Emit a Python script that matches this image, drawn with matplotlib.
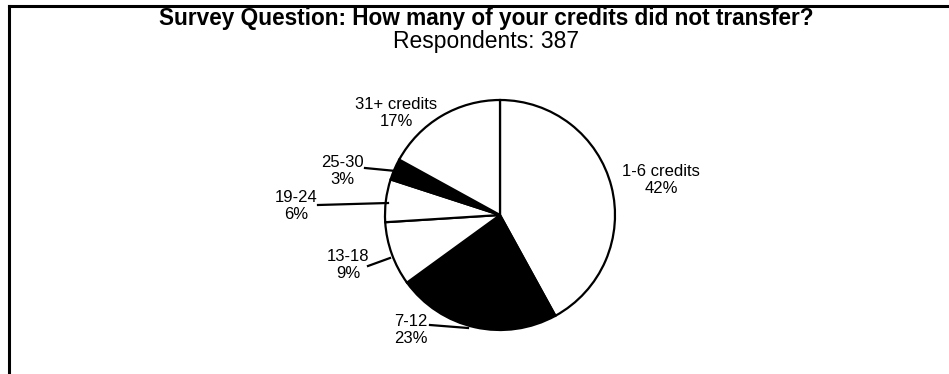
import matplotlib
matplotlib.use("Agg")
import matplotlib.pyplot as plt
from matplotlib import font_manager

categories = ["1-6 credits", "7-12", "13-18", "19-24", "25-30", "31+ credits"]
values = [42, 23, 9, 6, 3, 17]
colors = ["white", "black", "white", "white", "black", "white"]
title = "Survey Question: How many of your credits did not transfer?"
subtitle = "Respondents: 387"

names = {f.name for f in font_manager.fontManager.ttflist}
narrow = ["Liberation Sans Narrow", "Liberation Sans"] if "Liberation Sans Narrow" in names else ["Liberation Sans"]

W, H = 949, 374
fig = plt.figure(figsize=(W / 100, H / 100), dpi=100)
ax = fig.add_axes([0, 0, 1, 1])
ax.set_xlim(0, W)
ax.set_ylim(0, H)
ax.set_aspect("equal")
ax.axis("off")

cx, cy, r = 500, H - 215, 115
ax.pie(values, colors=colors, startangle=90, counterclock=False,
       center=(cx, cy), radius=r, frame=True,
       wedgeprops=dict(edgecolor="black", linewidth=1.6))
ax.set_xlim(0, W)
ax.set_ylim(0, H)
ax.axis("off")

# label positions (text center) and leader line endpoints in pixel coords (y from top)
label_pos = [(661, 180), (411, 330), (348, 265), (296, 206), (342, 171), (396, 113)]
leaders = [None, ((430, 325), (468, 328)), ((368, 266), (390, 258)),
           ((318, 205), (388, 203)), ((365, 168), (396, 171)), None]

for cat, v, (x, y), ld in zip(categories, values, label_pos, leaders):
    ax.text(x, H - y, f"{cat}\n{v}%", ha="center", va="center",
            fontsize=12, family=narrow, linespacing=1.15)
    if ld is not None:
        (x0, y0), (x1, y1) = ld
        ax.plot([x0, x1], [H - y0, H - y1], color="black", lw=1.6)

fig.text(486 / W, 1 - 25 / H, title, ha="center", va="baseline",
         fontsize=16.3, fontweight="bold", family="Liberation Sans")
fig.text(486 / W, 1 - 48 / H, subtitle, ha="center", va="baseline",
         fontsize=16.5, family="Liberation Sans")

# frame lines (top and left)
ax.plot([9, W], [H - 6, H - 6], color="black", lw=2.2, clip_on=False)
ax.plot([9, 9], [H - 6, 0], color="black", lw=2.2, clip_on=False)

fig.savefig("out.png", dpi=100, facecolor="white")
